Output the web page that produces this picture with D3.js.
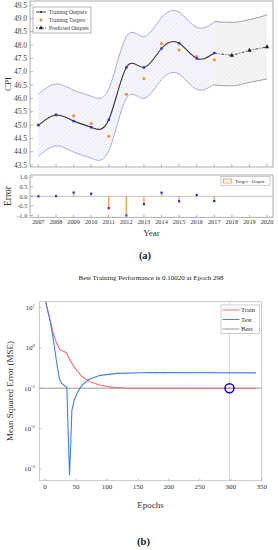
<!DOCTYPE html>
<html><head><meta charset="utf-8">
<script src="https://cdn.jsdelivr.net/npm/d3@7"></script>
<style>body{margin:0;background:#fff}svg{display:block;font-family:"Liberation Serif","Times New Roman",serif}</style>
</head><body><svg id="c" width="278" height="550"></svg>
<script>
// ---------- data (a) ----------
const years = [2007,2008,2009,2010,2011,2012,2013,2014,2015,2016,2017];
const targets = [45.00,45.40,45.35,45.06,44.58,46.16,46.75,48.06,47.81,47.57,47.45];
const outputs = [45.00,45.38,45.15,44.92,45.20,47.16,47.16,47.87,48.07,47.50,47.70];
const bandUpper = [46.16,46.54,46.31,46.08,46.36,48.32,48.32,49.03,49.23,48.66,48.86];
const bandLower = [43.84,44.22,43.99,43.76,44.04,46.00,46.00,46.71,46.91,46.34,46.54];
const errors = [0.00,0.01,0.20,0.14,-0.62,-1.00,-0.41,0.19,-0.26,0.07,-0.25];
const predYears = [2017,2018,2019,2020];
const predicted = [47.70,47.61,47.80,47.93];
const predUpper = [48.88,48.85,48.95,49.13];
const predLower = [46.50,46.47,46.60,46.73];
const yearTicks = [2007,2008,2009,2010,2011,2012,2013,2014,2015,2016,2017,2018,2019,2020];
const cpiTicks = [43.5,44.0,44.5,45.0,45.5,46.0,46.5,47.0,47.5,48.0,48.5,49.0,49.5];
const errTicks = [-1.0,-0.5,0.0,0.5,1.0];
const legendA = ["Training Outputs","Training Targets","Predicted Outputs"];

// ---------- data (b) ----------
const trainEpochs = [0,8,13.5,19,24.3,32.5,35.2,40.6,48.7,59.5,73,89.2,110.8,132.5,200,341];
const trainMSE = [16,4.84,2.23,1.26,0.89,0.79,0.71,0.49,0.31,0.195,0.144,0.119,0.105,0.1003,0.1002,0.1002];
const testEpochs = [0,8,13.5,19,23.2,27,32.5,35.2,39.5,41.7,43.3,47,51.4,59.5,70.3,89.2,116.3,170,341];
const testMSE = [16,4.84,1.55,0.41,0.174,0.132,0.112,0.105,0.00069,0.0051,0.028,0.05,0.074,0.118,0.164,0.209,0.234,0.245,0.24];
const bestEpoch = 298, bestPerf = 0.1002;
const epochTicks = [0,50,100,150,200,250,300,350];
const mseTickExp = [1,0,-1,-2,-3];
const legendB = ["Train","Test","Best"];
const titleB = "Best Training Performance is 0.10020 at Epoch 298";

const svg = d3.select("#c");
const defs = svg.append("defs");
function hatch(id, bg, fg){
  const p = defs.append("pattern").attr("id",id).attr("patternUnits","userSpaceOnUse")
    .attr("width",3).attr("height",3).attr("patternTransform","rotate(45)");
  p.append("rect").attr("width",3).attr("height",3).attr("fill",bg);
  p.append("line").attr("x1",0).attr("y1",0).attr("x2",0).attr("y2",3).attr("stroke",fg).attr("stroke-width",0.7);
}
hatch("hB","#f6f6fd","#d6d6f4");
hatch("hG","#f6f6f6","#dadada");

// ---------- panel (a) ----------
const x = d3.scaleLinear().domain([2006.52,2020.34]).range([30,273]);
const y = d3.scaleLinear().domain([43.43,49.65]).range([167,1]);
const ye = d3.scaleLinear().domain([-1.1,1.12]).range([217.3,175]);
const frame = "#9a9a9a";

const gA = svg.append("g");
gA.append("clipPath").attr("id","clipA").append("rect").attr("x",30).attr("y",1).attr("width",243).attr("height",166);
const pA = gA.append("g").attr("clip-path","url(#clipA)");

const area = d3.area().x(d=>x(d[0])).y0(d=>y(d[2])).y1(d=>y(d[1]));
pA.append("path").datum(years.map((v,i)=>[v,bandUpper[i],bandLower[i]]))
  .attr("d",area.curve(d3.curveNatural)).attr("fill","url(#hB)");
pA.append("path").datum(predYears.map((v,i)=>[v,predUpper[i],predLower[i]]))
  .attr("d",d3.area().x(d=>x(d[0])).y0(d=>y(d[2])).y1(d=>y(d[1])).curve(d3.curveMonotoneX)).attr("fill","url(#hG)");
const lineN = d3.line().x(d=>x(d[0])).y(d=>y(d[1])).curve(d3.curveNatural);
const lineM = d3.line().x(d=>x(d[0])).y(d=>y(d[1])).curve(d3.curveMonotoneX);
pA.append("path").attr("d",lineN(years.map((v,i)=>[v,bandUpper[i]]))).attr("fill","none").attr("stroke","#a8a8f2").attr("stroke-width",1);
pA.append("path").attr("d",lineN(years.map((v,i)=>[v,bandLower[i]]))).attr("fill","none").attr("stroke","#a8a8f2").attr("stroke-width",1);
pA.append("path").attr("d",lineM(predYears.map((v,i)=>[v,predUpper[i]]))).attr("fill","none").attr("stroke","#a0a0a0").attr("stroke-width",1);
pA.append("path").attr("d",lineM(predYears.map((v,i)=>[v,predLower[i]]))).attr("fill","none").attr("stroke","#a0a0a0").attr("stroke-width",1);
pA.append("path").attr("d",lineN(years.map((v,i)=>[v,outputs[i]]))).attr("fill","none").attr("stroke","#333").attr("stroke-width",1.1);
pA.append("path").attr("d",d3.line().x(d=>x(d[0])).y(d=>y(d[1]))(predYears.map((v,i)=>[v,predicted[i]])))
  .attr("fill","none").attr("stroke","#333").attr("stroke-width",0.9).attr("stroke-dasharray","3,1.5,1,1.5");
pA.selectAll(".tg").data(years).join("circle").attr("cx",d=>x(d)).attr("cy",(d,i)=>y(targets[i])).attr("r",1.5).attr("fill","#ff8a1c");
pA.selectAll(".op").data(years).join("rect").attr("x",d=>x(d)-1.2).attr("y",(d,i)=>y(outputs[i])-1.2).attr("width",2.4).attr("height",2.4).attr("fill","#2a2af0");
pA.selectAll(".pr").data(predYears.slice(1)).join("path")
  .attr("transform",(d,i)=>`translate(${x(d)},${y(predicted[i+1])})`).attr("d",d3.symbol(d3.symbolTriangle,9)).attr("fill","#222");

gA.append("rect").attr("x",30).attr("y",1).attr("width",243).attr("height",166).attr("fill","none").attr("stroke",frame).attr("stroke-width",0.8);
cpiTicks.forEach(t=>{
  gA.append("line").attr("x1",30).attr("x2",33).attr("y1",y(t)).attr("y2",y(t)).attr("stroke",frame).attr("stroke-width",0.7);
  gA.append("text").attr("x",27).attr("y",y(t)+2.5).attr("text-anchor","end").attr("font-size",7.5).attr("fill","#444").text(t.toFixed(1));
});
yearTicks.forEach(t=>{
  gA.append("line").attr("x1",x(t)).attr("x2",x(t)).attr("y1",167).attr("y2",164).attr("stroke",frame).attr("stroke-width",0.7);
});
gA.append("text").attr("transform","translate(11,84) rotate(-90)").attr("text-anchor","middle").attr("font-size",9).attr("fill","#333").text("CPI");

// legend (a)
const lg = gA.append("g");
lg.append("rect").attr("x",33).attr("y",7).attr("width",58).attr("height",26).attr("fill","#fff").attr("stroke","#888").attr("stroke-width",0.6);
lg.append("line").attr("x1",36).attr("x2",46).attr("y1",12).attr("y2",12).attr("stroke","#333").attr("stroke-width",0.9);
lg.append("rect").attr("x",40).attr("y",11).attr("width",2).attr("height",2).attr("fill","#2a2af0");
lg.append("circle").attr("cx",41).attr("cy",20).attr("r",1.4).attr("fill","#ff8a1c");
lg.append("line").attr("x1",36).attr("x2",46).attr("y1",28).attr("y2",28).attr("stroke","#333").attr("stroke-width",0.9).attr("stroke-dasharray","2,1");
lg.append("path").attr("transform","translate(41,28)").attr("d",d3.symbol(d3.symbolTriangle,8)).attr("fill","#222");
legendA.forEach((t,i)=>lg.append("text").attr("x",49).attr("y",14+i*8).attr("font-size",5.5).attr("fill","#333").text(t));

// error panel
const gE = svg.append("g");
gE.append("rect").attr("x",30).attr("y",175).attr("width",243).attr("height",42.3).attr("fill","#fff").attr("stroke",frame).attr("stroke-width",0.8);
gE.append("line").attr("x1",30).attr("x2",273).attr("y1",ye(0)).attr("y2",ye(0)).attr("stroke","#aaa").attr("stroke-width",0.7);
gE.selectAll(".st").data(years).join("line").attr("x1",d=>x(d)).attr("x2",d=>x(d)).attr("y1",ye(0)).attr("y2",(d,i)=>ye(errors[i]))
  .attr("stroke","#ffa347").attr("stroke-width",1.4);
gE.selectAll(".ed").data(years).join("rect").attr("x",d=>x(d)-1.1).attr("y",(d,i)=>ye(errors[i])-1.1).attr("width",2.2).attr("height",2.2).attr("fill","#2a2af0");
errTicks.forEach(t=>{
  gE.append("line").attr("x1",30).attr("x2",33).attr("y1",ye(t)).attr("y2",ye(t)).attr("stroke",frame).attr("stroke-width",0.7);
  gE.append("text").attr("x",27.5).attr("y",ye(t)+2.2).attr("text-anchor","end").attr("font-size",6.5).attr("fill","#444").text(t.toFixed(1));
});
yearTicks.forEach(t=>{
  gE.append("line").attr("x1",x(t)).attr("x2",x(t)).attr("y1",217.3).attr("y2",214.5).attr("stroke",frame).attr("stroke-width",0.7);
  gE.append("text").attr("x",x(t)).attr("y",224).attr("text-anchor","middle").attr("font-size",6.3).attr("fill","#333").text(t);
});
gE.append("rect").attr("x",221).attr("y",176.7).attr("width",49).attr("height",8.5).attr("fill","#fff").attr("stroke","#999").attr("stroke-width",0.5);
gE.append("rect").attr("x",223.5).attr("y",179).attr("width",8).attr("height",4).attr("fill","#fff").attr("stroke","#ffa347").attr("stroke-width",0.9);
gE.append("text").attr("x",235).attr("y",182.7).attr("font-size",5).attr("fill","#333").text("Target - Ouput");
gE.append("text").attr("transform","translate(11,196) rotate(-90)").attr("text-anchor","middle").attr("font-size",9.5).attr("fill","#333").text("Error");
gE.append("text").attr("x",151.5).attr("y",236).attr("text-anchor","middle").attr("font-size",9).attr("fill","#333").text("Year");
svg.append("text").attr("x",145).attr("y",259).attr("text-anchor","middle").attr("font-size",10.5).attr("font-weight","bold").attr("fill","#222").text("(a)");

// ---------- panel (b) ----------
const xb = d3.scaleLinear().domain([-9.3,350]).range([39.3,261.7]);
const yb = d3.scaleLog().domain([Math.pow(10,-3.29),Math.pow(10,1.144)]).range([480.7,301.7]);
const gB = svg.append("g");
gB.append("clipPath").attr("id","clipB").append("rect").attr("x",39.3).attr("y",301.7).attr("width",222.4).attr("height",179);
const pB = gB.append("g").attr("clip-path","url(#clipB)");
pB.append("line").attr("x1",xb(bestEpoch)).attr("x2",xb(bestEpoch)).attr("y1",301.7).attr("y2",480.7).attr("stroke","#d8d8d8").attr("stroke-width",0.9);
pB.append("line").attr("x1",39.3).attr("x2",261.7).attr("y1",yb(bestPerf)).attr("y2",yb(bestPerf)).attr("stroke","#b8b8b8").attr("stroke-width",1.4);
const lb = d3.line().x(d=>xb(d[0])).y(d=>yb(d[1]));
pB.append("path").attr("d",lb(trainEpochs.map((v,i)=>[v,trainMSE[i]]))).attr("fill","none").attr("stroke","#ff6b6b").attr("stroke-width",1.1);
pB.append("path").attr("d",lb(testEpochs.map((v,i)=>[v,testMSE[i]]))).attr("fill","none").attr("stroke","#3f82ee").attr("stroke-width",1.1);
pB.append("circle").attr("cx",xb(bestEpoch)).attr("cy",yb(bestPerf)).attr("r",4.5).attr("fill","none").attr("stroke","#0000ff").attr("stroke-width",1.5);
gB.append("rect").attr("x",39.3).attr("y",301.7).attr("width",222.4).attr("height",179).attr("fill","none").attr("stroke","#bdbdbd").attr("stroke-width",0.8);
epochTicks.forEach(t=>{
  gB.append("line").attr("x1",xb(t)).attr("x2",xb(t)).attr("y1",480.7).attr("y2",478.5).attr("stroke","#999").attr("stroke-width",0.6);
  gB.append("text").attr("x",xb(t)).attr("y",489).attr("text-anchor","middle").attr("font-size",7).attr("fill","#333").text(t);
});
mseTickExp.forEach(e=>{
  const yy = yb(Math.pow(10,e));
  gB.append("line").attr("x1",39.3).attr("x2",41.5).attr("y1",yy).attr("y2",yy).attr("stroke","#999").attr("stroke-width",0.6);
  const t = gB.append("text").attr("x",35).attr("y",yy+2.5).attr("text-anchor","end").attr("font-size",7).attr("fill","#333");
  t.append("tspan").text("10");
  t.append("tspan").attr("dy",-3).attr("font-size",4.8).text(e);
});
gB.append("text").attr("x",151).attr("y",280).attr("text-anchor","middle").attr("font-size",7).attr("fill","#222").text(titleB);
gB.append("text").attr("transform","translate(13,391) rotate(-90)").attr("text-anchor","middle").attr("font-size",9).attr("fill","#333").text("Mean Squared Error (MSE)");
gB.append("text").attr("x",150.5).attr("y",508).attr("text-anchor","middle").attr("font-size",9).attr("fill","#333").text("Epochs");
svg.append("text").attr("x",143.5).attr("y",545).attr("text-anchor","middle").attr("font-size",10.5).attr("font-weight","bold").attr("fill","#222").text("(b)");
// legend (b)
const lgb = gB.append("g");
lgb.append("rect").attr("x",221).attr("y",305).attr("width",38.3).attr("height",28.3).attr("fill","#fff").attr("stroke","#aaa").attr("stroke-width",0.6);
const lcol = ["#ff6b6b","#3f82ee","#999"];
legendB.forEach((t,i)=>{
  const yy = 310+i*9.5;
  lgb.append("line").attr("x1",222.5).attr("x2",239.5).attr("y1",yy).attr("y2",yy).attr("stroke",lcol[i]).attr("stroke-width",1);
  lgb.append("text").attr("x",241).attr("y",yy+2.3).attr("font-size",6.6).attr("fill","#333").text(t);
});
</script></body></html>
